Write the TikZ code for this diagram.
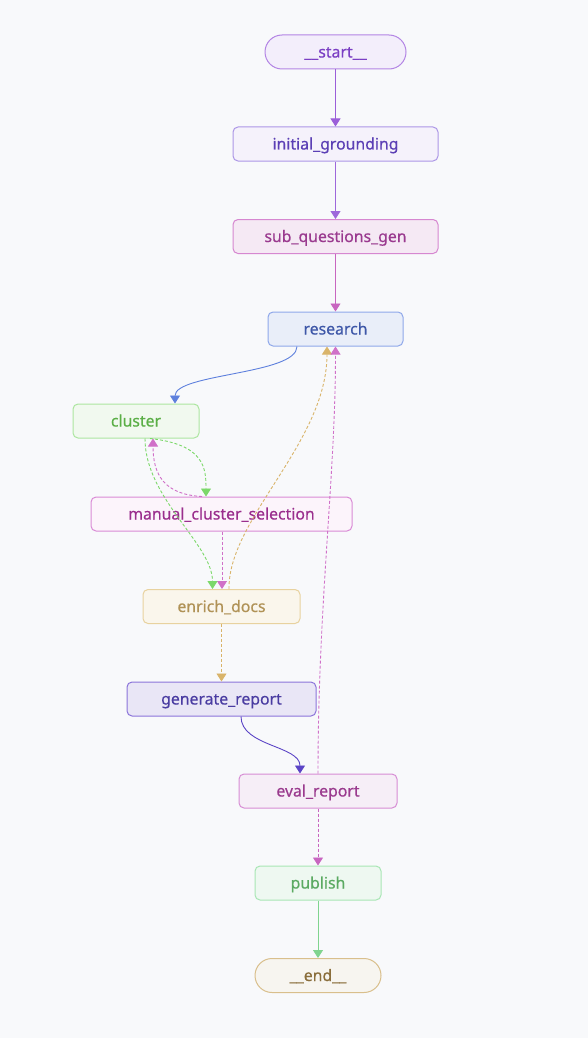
\documentclass[tikz,border=0pt]{standalone}
\usepackage{fontspec}
\setmainfont{Noto Sans}
\newfontfamily\nodefont{Noto Sans}[FakeBold=0.45]
\usetikzlibrary{arrows.meta}

\definecolor{bgc}{HTML}{F8F9FB}
% node palettes: fill / border / text
\definecolor{stF}{HTML}{F3EEFB}\definecolor{stD}{HTML}{B385E4}\definecolor{stT}{HTML}{7B3FC4}
\definecolor{igF}{HTML}{F5F2FB}\definecolor{igD}{HTML}{AC97E6}\definecolor{igT}{HTML}{5B3FB5}
\definecolor{sqF}{HTML}{F5E9F4}\definecolor{sqD}{HTML}{D687D0}\definecolor{sqT}{HTML}{9A3A8F}
\definecolor{rsF}{HTML}{E9EEF9}\definecolor{rsD}{HTML}{8FA8EA}\definecolor{rsT}{HTML}{3E57A8}
\definecolor{clF}{HTML}{F1F9EF}\definecolor{clD}{HTML}{ACE6A0}\definecolor{clT}{HTML}{5BAF47}
\definecolor{mcF}{HTML}{FCF4FB}\definecolor{mcD}{HTML}{D98BD6}\definecolor{mcT}{HTML}{9A2E8D}
\definecolor{edF}{HTML}{FAF6EC}\definecolor{edD}{HTML}{E8D29F}\definecolor{edT}{HTML}{B09256}
\definecolor{grF}{HTML}{E9E6F6}\definecolor{grD}{HTML}{8B74DA}\definecolor{grT}{HTML}{4A3CA2}
\definecolor{evF}{HTML}{F6EEF7}\definecolor{evD}{HTML}{D78DD4}\definecolor{evT}{HTML}{9A3A8E}
\definecolor{pbF}{HTML}{EEF8F1}\definecolor{pbD}{HTML}{A8E6B4}\definecolor{pbT}{HTML}{5BAA62}
\definecolor{enF}{HTML}{F7F5F0}\definecolor{enD}{HTML}{D9BF8C}\definecolor{enT}{HTML}{8A6E3C}
% connector colours
\definecolor{ePurple}{HTML}{9B5FD9}
\definecolor{ePink}{HTML}{C866C0}
\definecolor{eBlue}{HTML}{5E80DD}
\definecolor{eGreen}{HTML}{7CD86A}
\definecolor{eMag}{HTML}{D070C8}
\definecolor{eGold}{HTML}{D9B46A}
\definecolor{eIndigo}{HTML}{5B44C6}
\definecolor{eMint}{HTML}{80D48F}

\tikzset{
  box/.style={draw, line width=1pt, rounded corners=5pt, minimum height=34pt,
    inner sep=0pt, text height=14pt, text depth=3pt,
    font=\nodefont\fontsize{15.8}{17}\selectfont},
  pill/.style={box, rounded corners=17pt},
  link/.style={line width=0.9pt, -{Triangle[width=10pt,length=8pt]}},
  dlink/.style={link, dash pattern=on 3pt off 2pt},
}

\begin{document}
\begin{tikzpicture}[x=1pt,y=-1pt]
  \fill[bgc] (0,0) rectangle (588,1038);
  \useasboundingbox (0,0) rectangle (588,1038);

  % nodes
  \node[pill, fill=stF, draw=stD, text=stT, minimum width=141pt] (start) at (335.5,52) {\_\_start\_\_};
  \node[box, fill=igF, draw=igD, text=igT, minimum width=205pt] (ig) at (335.5,144) {initial\_grounding};
  \node[box, fill=sqF, draw=sqD, text=sqT, minimum width=205pt] (sq) at (335.5,236.5) {sub\_questions\_gen};
  \node[box, fill=rsF, draw=rsD, text=rsT, minimum width=135pt] (rs) at (335.5,329) {research};
  \node[box, fill=clF, draw=clD, text=clT, minimum width=126pt] (cl) at (136,421) {cluster};
  \node[box, fill=mcF, draw=mcD, text=mcT, minimum width=261pt] (mc) at (221.5,514) {manual\_cluster\_selection};
  \node[box, fill=edF, draw=edD, text=edT, minimum width=157pt] (ed) at (221.5,606.5) {enrich\_docs};
  \node[box, fill=grF, draw=grD, text=grT, minimum width=189pt] (gr) at (221.5,699) {generate\_report};
  \node[box, fill=evF, draw=evD, text=evT, minimum width=158pt] (ev) at (318,791) {eval\_report};
  \node[box, fill=pbF, draw=pbD, text=pbT, minimum width=126pt] (pb) at (318,883) {publish};
  \node[pill, fill=enF, draw=enD, text=enT, minimum width=126pt] (en) at (318,975.5) {\_\_end\_\_};

  % straight connectors
  \draw[link, ePurple] (start.south) -- (ig.north);
  \draw[link, ePurple!85!igD] (ig.south) -- (sq.north);
  \draw[link, ePink] (sq.south) -- (rs.north);
  \draw[dlink, eMag] ([xshift=0.5pt]mc.south) -- ([xshift=0.5pt]ed.north);
  \draw[dlink, eGold] (ed.south) -- (gr.north);
  \draw[dlink, ePink] (ev.south) -- (pb.north);
  \draw[link, eMint] (pb.south) -- (en.north);

  % curved connectors
  \draw[link, eBlue] ([xshift=-38.5pt]rs.south) .. controls +(0,28) and +(0,-30) .. ([xshift=39pt]cl.north);
  \draw[link, eIndigo] ([xshift=19.5pt]gr.south) .. controls +(0,30) and +(0,-28) .. ([xshift=-18pt]ev.north);
  \draw[dlink, eGreen] ([xshift=14pt]cl.south) .. controls +(55,6) and +(0,-28) .. ([xshift=-15.5pt]mc.north);
  \draw[dlink, eMag] ([xshift=-19.5pt]mc.north) .. controls +(-38,-2) and +(0,36) .. ([xshift=17pt]cl.south);
  \draw[dlink, eGreen] ([xshift=9pt]cl.south) .. controls +(0,60) and +(0,-45) .. ([xshift=-9pt]ed.north);
  \draw[dlink, eGold] ([xshift=7.5pt]ed.north) .. controls +(-1,-70) and +(0,96) .. ([xshift=-8.5pt]rs.south);
  \draw[dlink, eMag] (ev.north) .. controls +(0,-170) and +(0,130) .. ([xshift=0pt]rs.south);
\end{tikzpicture}
\end{document}
